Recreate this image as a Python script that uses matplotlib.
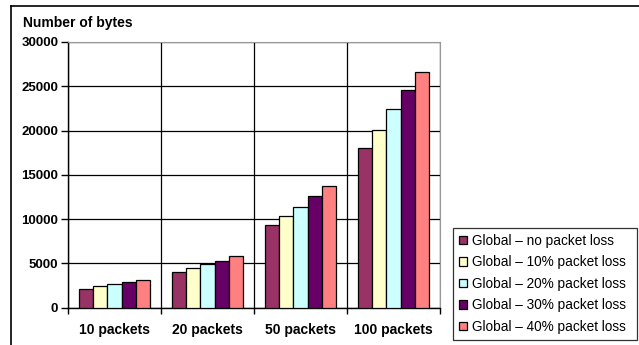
import matplotlib.pyplot as plt
import numpy as np

plt.rcParams['font.family'] = ['Liberation Sans', 'DejaVu Sans']

categories = ["10 packets", "20 packets", "50 packets", "100 packets"]
series = ["Global \u2013 no packet loss", "Global \u2013 10% packet loss",
          "Global \u2013 20% packet loss", "Global \u2013 30% packet loss",
          "Global \u2013 40% packet loss"]
no_loss = [2150, 4020, 9300, 18020]
loss_10 = [2440, 4440, 10300, 20120]
loss_20 = [2700, 4890, 11400, 22380]
loss_30 = [2860, 5260, 12600, 24550]
loss_40 = [3090, 5790, 13740, 26650]
values = [no_loss, loss_10, loss_20, loss_30, loss_40]
colors = ["#993366", "#FFFFCC", "#CCFFFF", "#660066", "#FF8080"]

fig = plt.figure(figsize=(6.39, 3.45), dpi=100)
ax = fig.add_axes([68/639, 1-307.7/345, (440-68)/639, (307.7-42)/345])

x = np.arange(len(categories))
w = 0.153
for i, (vals, c, lab) in enumerate(zip(values, colors, series)):
    ax.bar(x + (i - 2) * w, vals, w, color=c, edgecolor="black",
           linewidth=0.9, label=lab, zorder=3)

ax.set_xlim(-0.5, 3.5)
ax.set_ylim(0, 30000)
ax.set_yticks(np.arange(0, 30001, 5000))
ax.set_xticks(np.arange(-0.5, 3.6, 1.0))
ax.set_xticklabels([])
ax.set_xticks(x, minor=True)
ax.set_xticklabels(categories, minor=True, fontsize=10, fontweight="bold")
ax.tick_params(axis="x", which="minor", length=0, pad=11)
ax.tick_params(axis="x", which="major", length=4, width=1, direction="out")
ax.tick_params(axis="y", length=5, width=1, direction="out", labelsize=9.5, pad=2)
for t in ax.get_yticklabels():
    t.set_fontweight("bold")
ax.grid(True, which="major", color="black", linewidth=0.9, zorder=0)

ax.spines["top"].set_color("#999999")
ax.spines["right"].set_color("#999999")
ax.spines["left"].set_linewidth(1)
ax.spines["bottom"].set_linewidth(1)

fig.text(23/639, 1-23/345, "Number of bytes", fontsize=10, fontweight="bold",
         va="center", ha="left")

leg = fig.legend(loc="lower left", bbox_to_anchor=(453/639, 1-340/345, (637-453)/639, (340-228)/345),
                 mode="expand", frameon=True, fancybox=False, fontsize=9.8,
                 handlelength=0.6, handleheight=0.6, handletextpad=0.35,
                 labelspacing=0.55, borderpad=0.45, borderaxespad=0)
leg.get_frame().set_edgecolor("black")
leg.get_frame().set_linewidth(0.9)

# outer chart frame
fig.add_artist(plt.Line2D([11/639, 11/639], [0, 1-6/345], color="black", lw=1.2))
fig.add_artist(plt.Line2D([11/639, 1], [1-6/345, 1-6/345], color="black", lw=1.2))

fig.savefig("out.png", dpi=100)
